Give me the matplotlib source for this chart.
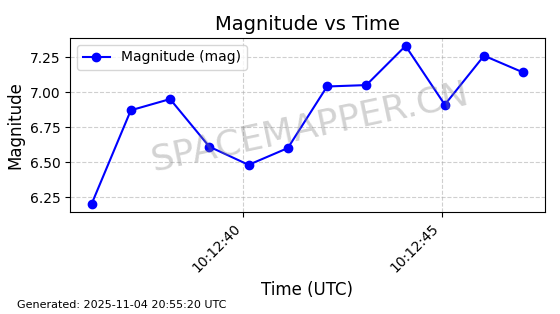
import pandas as pd
import matplotlib
matplotlib.use("Agg")
import matplotlib.pyplot as plt
import matplotlib.dates as mdates

# ---- data ----
times = pd.to_datetime([
    "2025-11-04 10:12:36.17", "2025-11-04 10:12:37.16", "2025-11-04 10:12:38.15",
    "2025-11-04 10:12:39.14", "2025-11-04 10:12:40.13", "2025-11-04 10:12:41.12",
    "2025-11-04 10:12:42.11", "2025-11-04 10:12:43.10", "2025-11-04 10:12:44.09",
    "2025-11-04 10:12:45.08", "2025-11-04 10:12:46.07", "2025-11-04 10:12:47.06",
])
magnitude = [6.20, 6.87, 6.95, 6.61, 6.48, 6.60, 7.04, 7.05, 7.33, 6.91, 7.26, 7.14]


def main():
    fig, ax = plt.subplots(figsize=(5.6, 3.14), dpi=100)
    ax.plot(times, magnitude, marker="o", color="blue", linestyle="-",
            label="Magnitude (mag)")
    ax.set_title("Magnitude vs Time", fontsize=14)
    ax.set_xlabel("Time (UTC)", fontsize=12)
    ax.set_ylabel("Magnitude", fontsize=12)
    ax.grid(True, linestyle="--", alpha=0.6)
    ax.legend(loc="upper left")
    ax.xaxis.set_major_locator(mdates.SecondLocator(bysecond=range(0, 60, 5)))
    ax.xaxis.set_major_formatter(mdates.DateFormatter("%H:%M:%S"))
    plt.setp(ax.get_xticklabels(), rotation=45, ha="right")
    # watermark
    ax.text(0.505, 0.49, "SPACEMAPPER.CN", transform=ax.transAxes, fontsize=26,
            color="gray", alpha=0.35, ha="center", va="center", rotation=12)
    fig.text(0.03, 0.02, "Generated: 2025-11-04 20:55:20 UTC", fontsize=8)
    fig.subplots_adjust(left=0.125, right=0.973, top=0.879, bottom=0.325)
    fig.savefig("out.png", dpi=100, facecolor="white")


if __name__ == "__main__":
    main()
